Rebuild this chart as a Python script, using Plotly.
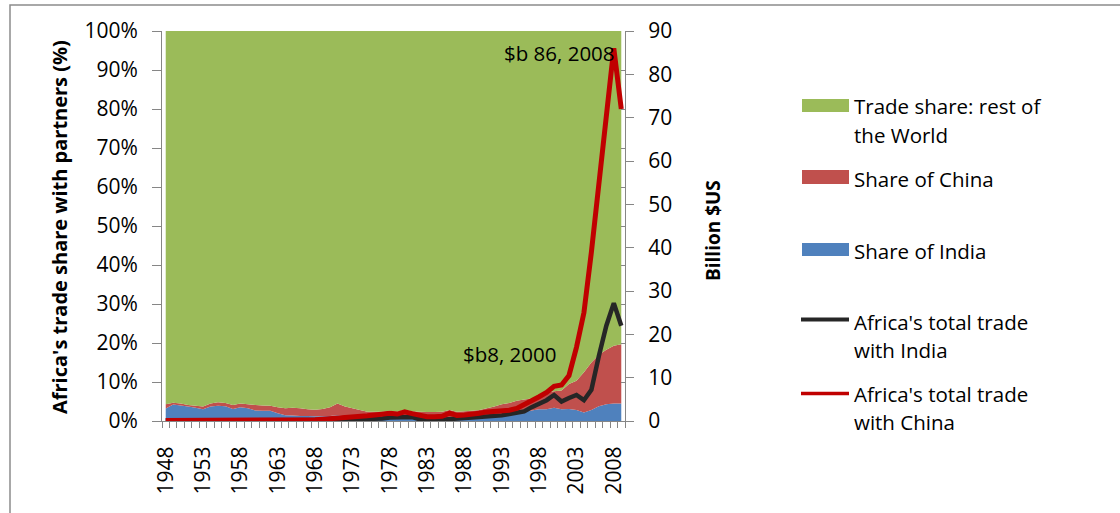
import plotly.graph_objects as go

# ---------------- data ----------------
years = list(range(1948, 2010))
tick_years = [1948, 1953, 1958, 1963, 1968, 1973, 1978, 1983, 1988, 1993, 1998, 2003, 2008]

# Share of Africa's trade (%)
india_share = [3.2, 4.2, 4.0, 3.7, 3.4, 3.0, 3.7, 3.9, 3.8, 3.1,
               3.5, 3.3, 2.7, 2.6, 2.6, 2.0, 1.5, 1.4, 1.3, 1.3,
               1.2, 1.2, 1.3, 1.5, 1.2, 1.0, 0.8, 0.7, 0.6, 0.6,
               0.6, 0.6, 0.7, 0.7, 0.6, 0.6, 0.6, 0.6, 0.7, 0.7,
               0.8, 0.8, 0.9, 1.0, 1.1, 1.3, 1.7, 2.0, 2.4, 2.7,
               3.0, 3.0, 3.4, 3.0, 3.1, 2.8, 2.2, 2.8, 3.8, 4.3,
               4.5, 4.5]
china_share = [1.1, 0.5, 0.5, 0.4, 0.5, 0.7, 0.8, 0.9, 0.8, 1.0,
               1.0, 1.0, 1.4, 1.4, 1.3, 1.5, 1.8, 2.0, 2.0, 1.7,
               1.7, 1.9, 2.2, 3.0, 2.5, 2.3, 2.0, 1.7, 1.8, 1.8,
               2.0, 1.8, 2.1, 1.8, 1.8, 1.7, 1.7, 1.8, 2.1, 1.7,
               1.7, 1.8, 1.9, 2.3, 2.6, 3.0, 2.9, 3.2, 3.1, 3.1,
               3.3, 4.3, 4.2, 4.8, 6.4, 7.5, 10.3, 12.2, 13.2, 14.0,
               14.8, 15.2]
rest_share = [95.7, 95.3, 95.5, 95.9, 96.1, 96.3, 95.5, 95.2, 95.4, 95.9,
              95.5, 95.7, 95.9, 96.0, 96.1, 96.5, 96.7, 96.6, 96.7, 97.0,
              97.1, 96.9, 96.5, 95.5, 96.3, 96.7, 97.2, 97.6, 97.6, 97.6,
              97.4, 97.6, 97.2, 97.5, 97.6, 97.7, 97.7, 97.6, 97.2, 97.6,
              97.5, 97.4, 97.2, 96.7, 96.3, 95.7, 95.4, 94.8, 94.5, 94.2,
              93.7, 92.7, 92.4, 92.2, 90.5, 89.7, 87.5, 85.0, 83.0, 81.7,
              80.7, 80.3]

# Africa's total trade (billion US$)
india_trade = [0.1, 0.1, 0.1, 0.1, 0.1, 0.1, 0.1, 0.1, 0.1, 0.1,
               0.1, 0.1, 0.1, 0.1, 0.1, 0.1, 0.1, 0.1, 0.1, 0.1,
               0.1, 0.1, 0.2, 0.2, 0.2, 0.3, 0.4, 0.4, 0.5, 0.6,
               0.8, 0.9, 1.0, 0.9, 0.4, 0.2, 0.2, 0.3, 0.5, 0.6,
               0.7, 0.8, 0.9, 1.0, 1.1, 1.3, 1.6, 1.9, 2.2, 3.2,
               4.1, 4.8, 6.0, 4.5, 5.3, 6.0, 4.8, 7.2, 15.0, 22.0,
               27.2, 22.0]
china_trade = [0.1, 0.1, 0.1, 0.1, 0.1, 0.1, 0.1, 0.1, 0.1, 0.1,
               0.1, 0.1, 0.1, 0.1, 0.1, 0.1, 0.1, 0.2, 0.2, 0.2,
               0.3, 0.4, 0.5, 0.6, 0.7, 0.9, 1.0, 1.2, 1.4, 1.7,
               1.8, 1.6, 2.1, 1.7, 1.2, 1.0, 1.0, 1.1, 1.8, 1.3,
               1.4, 1.5, 1.8, 2.1, 2.2, 2.5, 2.5, 2.9, 3.7, 4.8,
               5.6, 6.6, 8.0, 8.3, 10.5, 17.0, 25.0, 39.0, 54.5, 68.0,
               86.0, 72.0]

# ---------------- styling ----------------
FONT = "Open Sans, Lato, sans-serif"
TXT = "#000000"
AX = "#868686"
GREEN, RED_A, BLUE = "#9BBB59", "#C0504D", "#4F81BD"
RED_L, BLACK_L = "#C00000", "#262626"

W, H = 1120, 513
PL, PR, PT, PB = 162, 625, 31, 421   # plot area in pixels


def px(x):
    return (x - PL) / (PR - PL)


def py(y):
    return (PB - y) / (PB - PT)


fig = go.Figure()

fig.add_trace(go.Scatter(x=years, y=india_share, stackgroup="s", mode="none",
                         fillcolor=BLUE, name="Share of India", showlegend=False))
fig.add_trace(go.Scatter(x=years, y=china_share, stackgroup="s", mode="none",
                         fillcolor=RED_A, name="Share of China", showlegend=False))
fig.add_trace(go.Scatter(x=years, y=rest_share, stackgroup="s", mode="none",
                         fillcolor=GREEN, name="Trade share: rest of the World",
                         showlegend=False))
fig.add_trace(go.Scatter(x=years, y=india_trade, yaxis="y2", mode="lines",
                         line=dict(color=BLACK_L, width=4.5),
                         name="Africa's total trade with India", showlegend=False))
fig.add_trace(go.Scatter(x=years, y=china_trade, yaxis="y2", mode="lines",
                         line=dict(color=RED_L, width=5),
                         name="Africa's total trade with China", showlegend=False))

shapes = []
annotations = []

# outer frame
shapes.append(dict(type="rect", xref="paper", yref="paper",
                   x0=px(10), x1=px(1130), y0=py(525), y1=py(5),
                   line=dict(color="#8c8c8c", width=1.5), fillcolor="rgba(0,0,0,0)",
                   layer="below"))

# legend (manual)
swatches = [(GREEN, 99, 112), (RED_A, 170, 184), (BLUE, 243, 256)]
for col, y0, y1 in swatches:
    shapes.append(dict(type="rect", xref="paper", yref="paper",
                       x0=px(802), x1=px(849), y0=py(y1), y1=py(y0),
                       fillcolor=col, line=dict(width=0)))
shapes.append(dict(type="line", xref="paper", yref="paper",
                   x0=px(801), x1=px(849), y0=py(319.5), y1=py(319.5),
                   line=dict(color=BLACK_L, width=4)))
shapes.append(dict(type="line", xref="paper", yref="paper",
                   x0=px(801), x1=px(849), y0=py(393.5), y1=py(393.5),
                   line=dict(color=RED_L, width=3.5)))

legend_lines = [("Trade share: rest of", 106.5), ("the World", 135),
                ("Share of China", 179), ("Share of India", 250.5),
                ("Africa's total trade", 322), ("with India", 350),
                ("Africa's total trade", 394), ("with China", 422)]
for txt, yy in legend_lines:
    annotations.append(dict(text=txt, xref="paper", yref="paper",
                            x=px(852), y=py(yy), xanchor="left", yanchor="middle",
                            showarrow=False, font=dict(family=FONT, size=20.5, color=TXT)))

# axis titles
annotations.append(dict(text="<b>Africa's trade share with partners (%)</b>",
                        xref="paper", yref="paper", x=px(59), y=py(227),
                        xanchor="center", yanchor="middle", textangle=-90,
                        showarrow=False, font=dict(family=FONT, size=20, color=TXT)))
annotations.append(dict(text="<b>Billion $US</b>",
                        xref="paper", yref="paper", x=px(713), y=py(231),
                        xanchor="center", yanchor="middle", textangle=-90,
                        showarrow=False, font=dict(family=FONT, size=19, color=TXT)))

# data labels
annotations.append(dict(text="$b 86, 2008", xref="x", yref="y2", x=2008, y=84.9,
                        xanchor="right", yanchor="middle", xshift=3, showarrow=False,
                        font=dict(family=FONT, size=20.5, color=TXT)))
annotations.append(dict(text="$b8, 2000", xref="x", yref="y2", x=2000, y=15.5,
                        xanchor="right", yanchor="middle", xshift=5, showarrow=False,
                        font=dict(family=FONT, size=20.5, color=TXT)))

fig.update_layout(
    width=W, height=H, autosize=False,
    margin=dict(l=PL, r=W - PR, t=PT, b=H - PB, pad=0),
    paper_bgcolor="white", plot_bgcolor="white",
    font=dict(family=FONT, size=20, color=TXT),
    showlegend=False,
    shapes=shapes, annotations=annotations,
    xaxis=dict(range=[1947.5, 2009.5], tickmode="array", tickvals=tick_years,
               ticktext=[str(y) for y in tick_years], tickangle=-90,
               ticks="", showline=True, linecolor=AX, linewidth=1,
               showgrid=False, zeroline=False, ticklabelstandoff=16,
               tickfont=dict(family=FONT, size=21, color=TXT),
               minor=dict(tickmode="linear", tick0=1947.5, dtick=1, ticks="outside",
                          ticklen=6, tickcolor=AX, tickwidth=1, showgrid=False)),
    yaxis=dict(range=[0, 100], tickmode="linear", tick0=0, dtick=10, ticksuffix="%",
               ticks="outside", ticklen=9, tickcolor=AX, showline=True, linecolor=AX,
               linewidth=1, showgrid=False, zeroline=False, ticklabelstandoff=10,
               tickfont=dict(family=FONT, size=21, color=TXT)),
    yaxis2=dict(range=[0, 90], tickmode="linear", tick0=0, dtick=10, overlaying="y",
                side="right", anchor="x", ticks="outside", ticklen=8, tickcolor=AX,
                showline=True, linecolor=AX, linewidth=1, showgrid=False,
                zeroline=False, ticklabelstandoff=10,
                tickfont=dict(family=FONT, size=21, color=TXT)),
    yaxis3=dict(range=[0, 100], tickmode="linear", tick0=0, dtick=10, overlaying="y",
                side="right", anchor="x", ticks="inside", ticklen=4, tickcolor=AX,
                showline=False, showgrid=False, zeroline=False, showticklabels=False),
)

# invisible helper trace so yaxis3 (inner right ticks) is drawn
fig.add_trace(go.Scatter(x=[years[0]], y=[0], yaxis="y3", mode="markers",
                         marker=dict(opacity=0), hoverinfo="skip", showlegend=False))

fig.write_html("out.html", config={"displayModeBar": False},
               post_script="document.body.style.margin='0';document.body.style.overflow='hidden';")
